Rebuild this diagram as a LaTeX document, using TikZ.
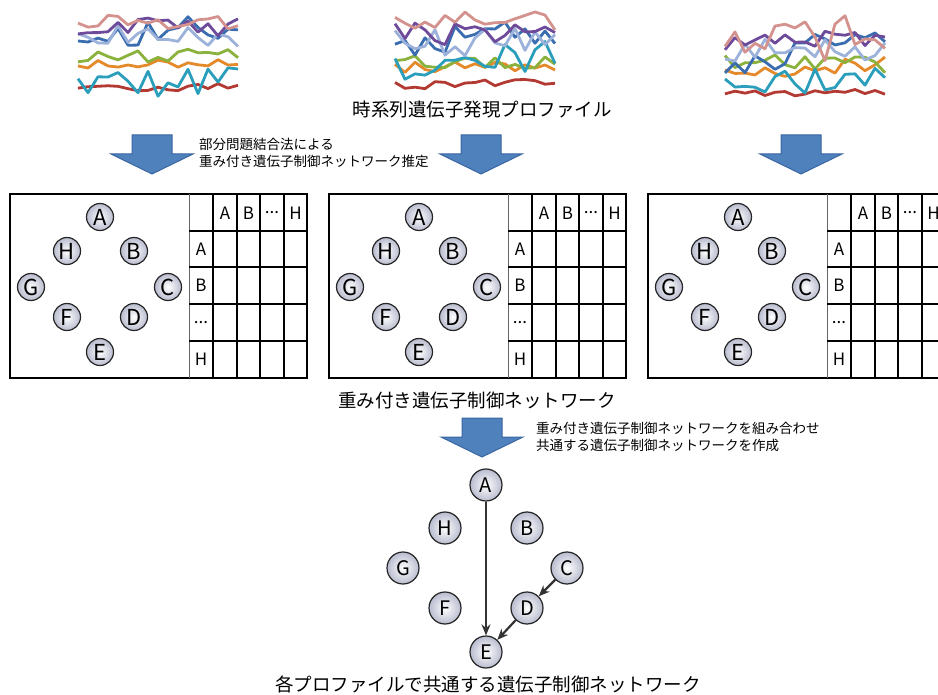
\documentclass[tikz,border=0pt]{standalone}
\usepackage{fontspec}
\setmainfont{Noto Sans CJK JP}
\usetikzlibrary{positioning,arrows.meta}
\definecolor{arrowFill}{HTML}{4f81bd}
\definecolor{arrowStroke}{HTML}{3a66a3}
\definecolor{nodeFill}{HTML}{b9bccf}
\definecolor{linkGray}{HTML}{333333}
\definecolor{serBlue}{HTML}{3a6db0}
\definecolor{serPurple}{HTML}{6e4b9a}
\definecolor{serPink}{HTML}{d4928e}
\definecolor{serLightBlue}{HTML}{9cb2da}
\definecolor{serGreen}{HTML}{8ab23c}
\definecolor{serOrange}{HTML}{e58a2a}
\definecolor{serRed}{HTML}{b23a33}
\definecolor{serTeal}{HTML}{2a9ebb}

% one noisy expression profile: colour, start level, end level, noise
\newcommand\exprline[4]{\draw[series,#1] plot[domain=0:16,samples=17] (\x*10,{#2+(#3-#2)*\x/16+#4*rand});}
% ellipsis cell of the weight matrix
\newcommand\celldots{...}

\begin{document}
\begin{tikzpicture}[
  x=1pt, y=-1pt,
  gnode/.style={circle, draw=black!85, line width=1.2pt, inner color=white, outer color=nodeFill,
                minimum size=27pt, inner sep=0pt, font=\fontsize{22}{22}\selectfont},
  bignode/.style={gnode, minimum size=32pt, font=\fontsize{20}{20}\selectfont},
  cell/.style={inner sep=0pt, font=\fontsize{17}{17}\selectfont},
  frame/.style={draw=black, line width=2pt},
  gridline/.style={draw=black, line width=1.5pt},
  series/.style={line width=2.8pt, line join=round},
  link/.style={-{Stealth[length=11pt,width=9pt]}, line width=2.2pt, draw=linkGray},
  title/.style={inner sep=0pt, font=\fontsize{18.5}{18.5}\selectfont},
  note/.style={inner sep=0pt, align=left, font=\fontsize{13.5}{17}\selectfont},
  bigarrow/.pic={\draw[draw=arrowStroke, fill=arrowFill, line width=1pt]
      (-20,0) -- (20,0) -- (20,19) -- (41,19) -- (0,39) -- (-41,19) -- (-20,19) -- cycle;}
]
\clip (0,0) rectangle (938,695);

% ============ EXPRESSION PROFILES ============
\begin{scope}[shift={(78,15)}]
  \pgfmathsetseed{11}
  \exprline{serRed}{73}{72}{4}
  \exprline{serOrange}{50}{48}{5}
  \exprline{serGreen}{42}{40}{7}
  \exprline{serTeal}{72}{66}{14}
  \exprline{serBlue}{22}{12}{14}
  \exprline{serLightBlue}{20}{22}{10}
  \exprline{serPurple}{12}{12}{9}
  \exprline{serPink}{6}{8}{7}
\end{scope}
\begin{scope}[shift={(395,10)}]
  \pgfmathsetseed{27}
  \exprline{serRed}{76}{74}{5}
  \exprline{serOrange}{58}{55}{6}
  \exprline{serGreen}{50}{52}{8}
  \exprline{serTeal}{60}{45}{16}
  \exprline{serBlue}{30}{20}{18}
  \exprline{serLightBlue}{35}{30}{15}
  \exprline{serPurple}{25}{18}{12}
  \exprline{serPink}{12}{10}{10}
\end{scope}
\begin{scope}[shift={(725,10)}]
  \pgfmathsetseed{5}
  \exprline{serRed}{84}{82}{3}
  \exprline{serOrange}{62}{55}{8}
  \exprline{serGreen}{50}{55}{8}
  \exprline{serTeal}{70}{72}{14}
  \exprline{serBlue}{55}{25}{20}
  \exprline{serLightBlue}{40}{42}{12}
  \exprline{serPurple}{30}{25}{10}
  \exprline{serPink}{45}{15}{25}
\end{scope}
\node[title] (profiles) at (482,110) {時系列遺伝子発現プロファイル};

% ============ ESTIMATION STEP ============
\pic at (152,135) {bigarrow};
\pic at (481,135) {bigarrow};
\pic at (801,135) {bigarrow};
\node[note, anchor=west] (estimate) at (199,153) {部分問題結合法による\\重み付き遺伝子制御ネットワーク推定};

% ============ WEIGHTED NETWORKS (one per profile) ============
\foreach \p/\dx in {1/0, 2/319, 3/638} {
  \begin{scope}[shift={(\dx,0)}]
    \draw[frame] (10,194) rectangle (307,378);
    % graph part
    \node[gnode] (A\p) at (100,217) {A};
    \node[gnode] (H\p) at (67,251)  {H};
    \node[gnode] (B\p) at (134,251) {B};
    \node[gnode] (G\p) at (31,287)  {G};
    \node[gnode] (C\p) at (168,287) {C};
    \node[gnode] (F\p) at (67,317)  {F};
    \node[gnode] (D\p) at (134,317) {D};
    \node[gnode] (E\p) at (100,352) {E};
    % weight matrix
    \draw[draw=black!60, line width=0.8pt] (189,194) -- (189,378);
    \foreach \gx in {213,237,260,284}
      \draw[gridline] (\gx,194) -- (\gx,378);
    \foreach \gy in {231,267,304,341}
      \draw[gridline] (189,\gy) -- (307,\gy);
    \foreach \lab/\nm/\cx in {A/a/225, B/b/248.5, \celldots/d/272, H/h/295.5}
      \node[cell] (col\nm\p) at (\cx,213) {\lab};
    \foreach \lab/\nm/\cy in {A/a/249, B/b/285.5, \celldots/d/322.5, H/h/359.5}
      \node[cell] (row\nm\p) at (201,\cy) {\lab};
  \end{scope}
}
\node[title] (weighted) at (477,400) {重み付き遺伝子制御ネットワーク};

% ============ COMBINATION STEP ============
\pic at (482,418) {bigarrow};
\node[note, anchor=west] (combine) at (536,437) {重み付き遺伝子制御ネットワークを組み合わせ\\共通する遺伝子制御ネットワークを作成};

% ============ COMMON NETWORK ============
\node[bignode] (Ac) at (486,485) {A};
\node[bignode] (Hc) at (445,528) {H};
\node[bignode] (Bc) at (527,528) {B};
\node[bignode] (Gc) at (403,568) {G};
\node[bignode] (Cc) at (567,568) {C};
\node[bignode] (Fc) at (445,608) {F};
\node[bignode] (Dc) at (527,608) {D};
\node[bignode] (Ec) at (486,652) {E};

\draw[link] (Ac) -- (Ec);
\draw[link] (Cc) -- (Dc);
\draw[link] (Dc) -- (Ec);

\node[title] (common) at (488,684) {各プロファイルで共通する遺伝子制御ネットワーク};

\end{tikzpicture}
\end{document}
